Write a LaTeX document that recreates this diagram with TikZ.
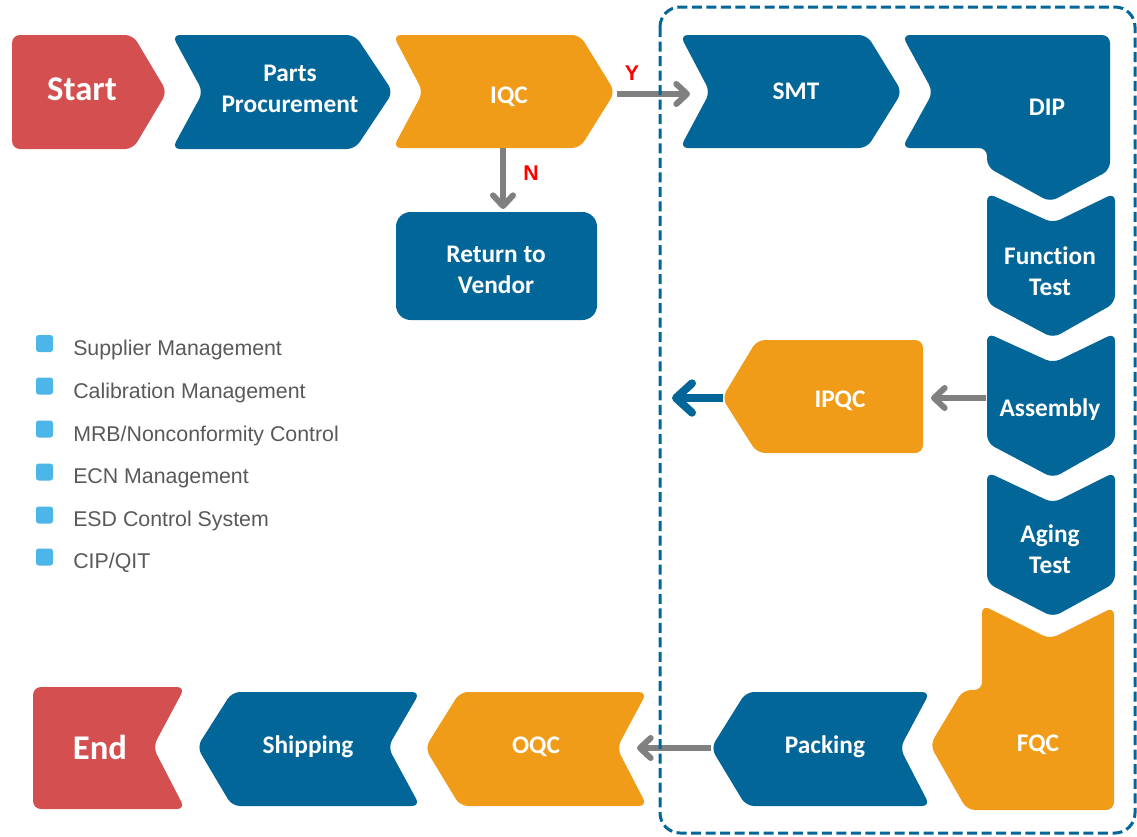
\documentclass[tikz,border=0pt]{standalone}
\usepackage{fontspec}
\setmainfont{Carlito}[Ligatures=NoCommon]
\newfontfamily\arialf{Liberation Sans}
\usetikzlibrary{arrows.meta}
\definecolor{cblue}{RGB}{2,102,153}
\definecolor{corange}{RGB}{240,156,24}
\definecolor{cred}{RGB}{212,79,79}
\definecolor{cgray}{RGB}{128,128,128}
\definecolor{clight}{RGB}{77,182,232}
\definecolor{ctext}{RGB}{89,89,89}
\definecolor{cyes}{RGB}{255,0,0}
\begin{document}
\begin{tikzpicture}[x=0.75pt,y=-0.75pt,
 shp/.style={rounded corners=6pt},
 bluef/.style={shp,fill=cblue},
 orangef/.style={shp,fill=corange},
 redf/.style={shp,fill=cred},
 lbl/.style={text=white,font=\bfseries\fontsize{19}{23}\selectfont,align=center,inner sep=0pt,text height=12.2pt,text depth=0pt},
 biglbl/.style={text=white,font=\bfseries\fontsize{26}{30}\selectfont,inner sep=0pt,text height=16.7pt,text depth=0pt},
 yn/.style={text=cyes,font=\arialf\bfseries\fontsize{16}{19}\selectfont,inner sep=0pt,text height=11.5pt,text depth=0pt},
 garrow/.style={draw=cgray,line width=4.5pt,-{Straight Barb[length=8pt,width=15pt,round]}},
 barrow/.style={draw=cblue,line width=6pt,-{Straight Barb[length=12pt,width=22pt,round]}},
 bsq/.style={fill=clight,rounded corners=2pt},
 btxt/.style={text=ctext,font=\arialf\fontsize{16}{18}\selectfont,anchor=west,inner sep=0pt,text height=11.5pt,text depth=0pt},
 dashbox/.style={draw=cblue,line width=2.25pt,dash pattern=on 7.5pt off 3.4pt,rounded corners=15pt}
]
\useasboundingbox (0,0) rectangle (1137,836);

% ---- top row ----
\fill[redf] (12,35) -- (133,35) -- (167,92) -- (133,149) -- (12,149) -- cycle;
\fill[bluef] (172,35) -- (355,35) -- (393,92) -- (355,149) -- (172,149) -- (203,92) -- cycle;
\fill[orangef] (393,35) -- (580,35) -- (615,92) -- (580,148) -- (393,148) -- (423,92) -- cycle;
\fill[bluef] (680,35) -- (867,35) -- (902,92) -- (867,148) -- (680,148) -- (710,92) -- cycle;
\fill[bluef] (902,35) -- (1110,35) -- (1110,170) -- (1050,202) -- (987,167) -- (987,148) -- (902,148) -- (933,92) -- cycle;

% ---- right column ----
\fill[bluef] (987,193) -- (1053,223) -- (1115,193) -- (1115,303) -- (1053,338) -- (987,303) -- cycle;
\fill[bluef] (987,333) -- (1053,363) -- (1115,333) -- (1115,443) -- (1053,478) -- (987,443) -- cycle;
\fill[bluef] (987,472) -- (1053,503) -- (1115,472) -- (1115,583) -- (1053,617) -- (987,583) -- cycle;
\fill[orangef] (982,605) -- (1050,639) -- (1114,607) -- (1114,810) -- (967,810) -- (930,745) -- (963,690) -- (982,690) -- cycle;

% ---- bottom row ----
\fill[bluef] (711,748) -- (746,692) -- (930,692) -- (900,748) -- (930,806) -- (746,806) -- cycle;
\fill[orangef] (425,748) -- (460,692) -- (647,692) -- (617,748) -- (647,806) -- (460,806) -- cycle;
\fill[bluef] (197,747) -- (232,692) -- (420,692) -- (388,747) -- (420,806) -- (232,806) -- cycle;
\fill[redf] (33,687) -- (185,687) -- (153,747) -- (185,809) -- (33,809) -- cycle;

% ---- IPQC and Return to Vendor ----
\fill[orangef] (722,398) -- (757,340) -- (923,340) -- (923,453) -- (757,453) -- cycle;
\fill[cblue,rounded corners=11pt] (396,212) rectangle (597,320);

% ---- labels ----
\node[biglbl] (start) at (82,89) {Start};
\node[lbl] (parts) at (290,104.5) {Parts\\Procurement};
\node[lbl] (iqc) at (509,95) {IQC};
\node[lbl] (smt) at (796,91) {SMT};
\node[lbl] (dip) at (1047,107) {DIP};
\node[lbl] (rtv) at (496,285.5) {Return to\\Vendor};
\node[lbl] (ftest) at (1050,287) {Function\\Test};
\node[lbl] (assembly) at (1050,408) {Assembly};
\node[lbl] (aging) at (1050,565.5) {Aging\\Test};
\node[lbl] (ipqc) at (840,399) {IPQC};
\node[lbl] (fqc) at (1038,743) {FQC};
\node[lbl] (packing) at (825,745) {Packing};
\node[lbl] (oqc) at (536,745) {OQC};
\node[lbl] (shipping) at (308,745) {Shipping};
\node[biglbl] (end) at (100,748) {End};

\node[yn] (ylbl) at (632,73) {Y};
\node[yn] (nlbl) at (531,173) {N};

% ---- connectors ----
\coordinate (iqcE) at (617,94);
\coordinate (smtW) at (690,94);
\coordinate (iqcS) at (503,148);
\coordinate (rtvN) at (503,209);
\coordinate (asmW) at (986,398);
\coordinate (ipqcE) at (931,398);
\coordinate (ipqcW) at (723,398);
\coordinate (outW) at (672,398);
\coordinate (packW) at (711,748);
\coordinate (oqcE) at (637,748);
\draw[garrow] (iqcE) -- (smtW);
\draw[garrow] (iqcS) -- (rtvN);
\draw[garrow] (asmW) -- (ipqcE);
\draw[barrow] (ipqcW) -- (outW);
\draw[garrow] (packW) -- (oqcE);

% ---- dashed group box ----
\draw[dashbox] (660,7) rectangle (1135,833);

% ---- bullet list ----
\foreach \yy/\ty/\t [count=\i] in {343.5/348/Supplier Management,386/390.5/Calibration Management,429/433.5/MRB\slash Nonconformity Control,472/476/ECN Management,515/518.5/ESD Control System,557/561/CIP\slash QIT}{
  \fill[bsq] (36,\yy-8.5) rectangle (53,\yy+8.5);
  \node[btxt] (b\i) at (73,\ty) {\t};
}
\end{tikzpicture}
\end{document}
